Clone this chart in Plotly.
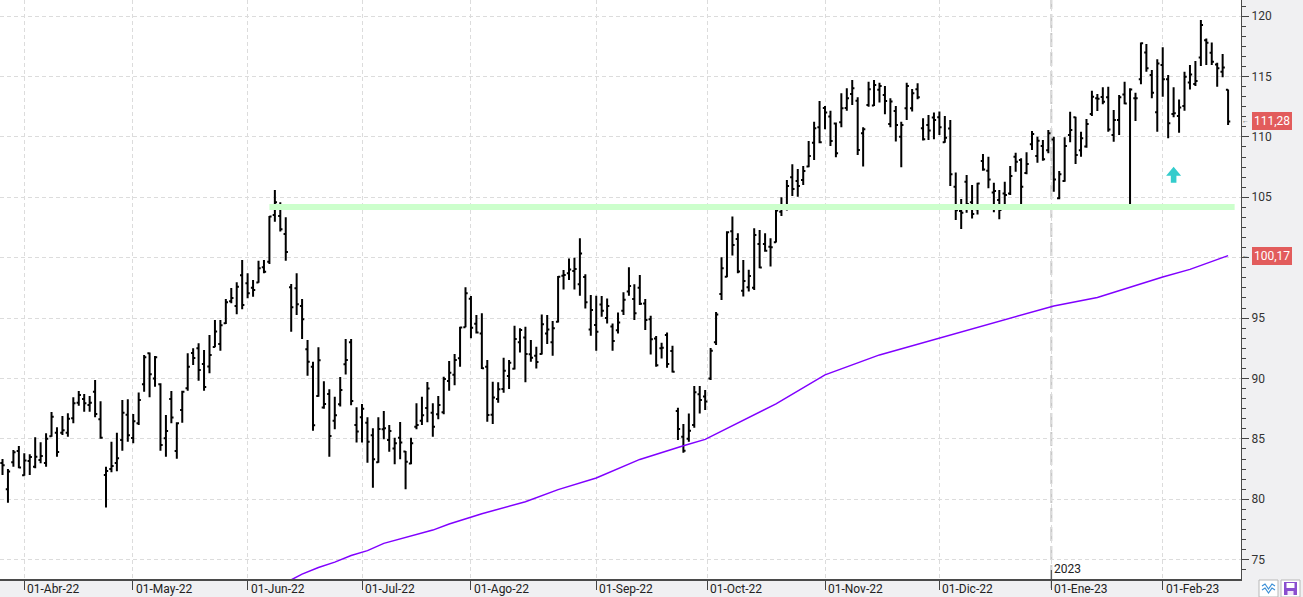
import plotly.graph_objects as go

# ---------------- data (daily bars, index 0 = 28-Mar-2022) ----------------
open_ = [83.0, 80.82, 83.06, 84.0, 81.98, 83.17, 82.70, 83.25, 83.0, 85.21,
         85.5, 85.5, 85.5, 86.70, 88.0, 88.3, 87.8, 88.91, 86.62, 82.0,
         82.5, 83.0, 84.91, 87.0, 85.07, 86.29, 89.52, 92.08, 90.0, 89.52,
         85.05, 88.3, 84.0, 87.39, 89.2, 92.1, 92.5, 91.2, 91.0, 92.6,
         92.86, 94.57, 96.4, 96.0, 98.54, 97.88, 97.5, 97.95, 99.2, 99.67,
         103.53, 103.45, 101.96, 97.55, 97.46, 96.0, 92.41, 90.98, 88.55, 87.6,
         88.72, 86.5, 87.86, 91.17, 92.99, 86.15, 86.78, 86.34, 85.29, 83.06,
         85.8, 84.9, 84.2, 85.1, 83.95, 82.97, 86.0, 86.5, 87.56, 87.17,
         87.03, 87.2, 89.8, 90.3, 91.67, 94.23, 96.6, 94.53, 93.73, 90.97,
         87.0, 88.3, 89.12, 90.2, 90.8, 93.0, 93.40, 92.0, 91.88, 92.02,
         93.73, 93.0, 94.70, 98.5, 98.7, 98.9, 97.79, 98.4, 94.06, 94.42,
         96.13, 95.0, 94.3, 94.0, 95.6, 97.2, 96.57, 97.5, 96.2, 94.9,
         93.3, 92.5, 93.6, 92.27, 87.3, 85.18, 85.0, 86.14, 88.7, 88.5,
         90.0, 93.0, 97.0, 98.43, 102.18, 101.55, 97.27, 97.55, 97.52, 101.14,
         101.14, 100.9, 101.28, 103.8, 104.36, 106.65, 106.35, 106.43, 107.54, 109.52,
         110.79, 112.4, 111.68, 111.1, 111.2, 112.4, 113.55, 113.0, 110.30, 112.64,
         112.6, 113.9, 113.47, 111.07, 112.15, 110.02, 112.37, 112.37, 113.94, 110.71,
         110.99, 111.6, 111.62, 109.55, 110.70, 105.88, 103.86, 106.29, 104.58, 104.0,
         108.0, 107.20, 105.4, 104.77, 105.32, 105.32, 108.36, 108.08, 107.0, 109.38,
         108.41, 109.24, 108.9, 109.79, 104.91, 106.34, 110.15, 111.62, 108.9, 109.2,
         111.89, 113.2, 113.3, 113.27, 110.15, 111.39, 113.5, 104.17, 113.2, 114.76,
         116.99, 115.12, 112.03, 115.95, 114.76, 111.9, 111.73, 112.55, 114.5, 114.37,
         116.58, 118.0, 116.97, 116.0, 115.40, 113.9]
high = [83.33, 82.51, 84.08, 84.41, 83.80, 83.72, 85.13, 84.71, 85.46, 87.23,
        85.96, 86.89, 87.12, 88.44, 88.96, 88.72, 88.55, 89.87, 88.11, 82.70,
        84.77, 85.51, 88.22, 88.27, 87.06, 88.83, 91.95, 92.14, 91.86, 89.6,
        86.98, 88.96, 86.37, 88.99, 92.08, 92.50, 92.91, 92.36, 93.60, 94.84,
        94.84, 96.58, 97.49, 97.96, 99.81, 98.71, 98.15, 99.75, 99.81, 103.45,
        105.60, 104.58, 103.34, 97.82, 98.70, 96.58, 93.19, 91.39, 92.58, 89.76,
        89.10, 88.49, 90.12, 93.27, 93.27, 87.61, 87.89, 86.78, 85.87, 86.78,
        87.31, 86.15, 85.10, 86.40, 83.99, 85.10, 87.94, 88.49, 89.71, 87.94,
        88.55, 90.15, 91.45, 92.03, 94.29, 97.55, 96.82, 95.25, 95.39, 91.52,
        89.73, 89.68, 91.72, 91.52, 94.37, 94.15, 94.29, 93.18, 92.63, 95.30,
        95.25, 94.75, 98.48, 98.97, 99.94, 99.99, 101.60, 98.62, 96.91, 96.85,
        96.82, 96.63, 94.56, 95.47, 97.13, 99.20, 97.79, 98.56, 96.57, 95.19,
        93.51, 92.96, 93.81, 92.71, 87.58, 86.23, 87.11, 89.37, 89.37, 89.04,
        92.52, 95.50, 100.03, 102.18, 103.4, 102.02, 99.81, 99.0, 102.43, 102.29,
        102.02, 101.61, 104.01, 105.00, 106.43, 107.73, 107.34, 107.59, 109.66, 111.26,
        112.97, 112.56, 112.17, 111.18, 113.61, 114.02, 114.71, 113.28, 110.79, 114.57,
        114.71, 114.49, 114.22, 113.19, 112.56, 111.26, 114.49, 113.97, 114.44, 111.54,
        111.81, 112.01, 112.09, 111.73, 111.39, 107.06, 104.85, 106.84, 106.01, 106.21,
        108.58, 108.36, 106.21, 105.60, 106.29, 107.59, 108.69, 108.22, 108.72, 110.48,
        110.01, 109.74, 110.57, 110.01, 107.17, 109.96, 112.08, 111.67, 110.43, 111.48,
        113.82, 113.55, 114.10, 114.15, 112.22, 113.46, 114.57, 114.02, 113.66, 117.82,
        117.69, 115.53, 116.42, 117.41, 115.12, 114.10, 113.10, 115.40, 115.95, 116.28,
        119.67, 118.15, 117.82, 116.14, 116.86, 113.93]
low = [82.01, 79.72, 82.70, 82.56, 81.95, 82.01, 82.56, 82.98, 82.70, 85.18,
       83.53, 85.32, 85.18, 86.29, 87.75, 87.25, 87.25, 86.78, 85.02, 79.31,
       82.23, 82.31, 84.02, 84.77, 84.63, 86.15, 88.91, 88.44, 89.32, 84.02,
       83.53, 86.29, 83.36, 86.34, 88.99, 91.12, 89.82, 88.99, 90.43, 92.58,
       92.30, 94.51, 96.22, 95.31, 95.73, 96.64, 96.77, 97.93, 98.71, 99.48,
       102.98, 102.16, 99.75, 93.87, 95.25, 93.27, 90.23, 85.68, 88.49, 87.50,
       83.53, 85.79, 87.67, 90.32, 87.78, 84.69, 84.69, 83.03, 80.96, 83.03,
       84.96, 83.94, 82.89, 83.31, 80.82, 82.89, 85.79, 86.15, 86.37, 85.18,
       86.62, 87.03, 88.99, 89.43, 90.98, 94.23, 93.32, 93.73, 90.78, 86.42,
       86.23, 87.99, 88.82, 89.12, 90.75, 92.16, 89.68, 91.39, 90.83, 91.99,
       92.85, 91.88, 94.64, 97.37, 98.15, 97.37, 96.85, 95.80, 93.54, 92.30,
       95.11, 94.56, 92.30, 93.73, 95.25, 96.85, 94.84, 96.08, 94.01, 91.99,
       90.97, 91.66, 90.89, 90.50, 84.90, 83.85, 84.76, 85.92, 87.11, 87.4,
       89.87, 92.77, 96.50, 98.38, 100.17, 98.71, 96.78, 97.19, 97.33, 99.12,
       100.50, 99.26, 101.25, 103.45, 103.90, 105.11, 105.05, 106.02, 107.48, 108.09,
       109.47, 110.63, 109.25, 108.31, 110.79, 112.17, 112.64, 108.50, 107.54, 112.50,
       112.56, 112.84, 111.87, 110.79, 109.61, 107.48, 111.40, 112.09, 113.11, 109.69,
       109.74, 109.80, 110.16, 109.52, 105.93, 103.12, 102.37, 103.72, 103.25, 103.58,
       107.2, 105.74, 103.75, 103.17, 104.36, 105.19, 107.12, 104.03, 106.90, 108.91,
       107.86, 108.03, 108.64, 105.46, 104.83, 106.29, 109.55, 107.75, 108.36, 109.10,
       111.73, 112.14, 112.69, 110.43, 109.60, 110.15, 112.69, 104.17, 111.31, 114.35,
       115.39, 113.19, 110.43, 113.33, 109.88, 111.62, 110.35, 112.17, 113.93, 114.21,
       115.86, 115.95, 115.95, 114.15, 114.93, 110.98]
close = [82.81, 82.3, 83.9, 82.64, 83.20, 83.5, 83.53, 83.58, 85.02, 86.84,
         83.91, 85.71, 86.67, 87.94, 88.63, 87.94, 88.0, 87.06, 85.10, 82.34,
         82.76, 83.39, 87.17, 85.29, 86.45, 88.22, 91.75, 90.35, 91.75, 84.49,
         85.65, 86.76, 86.29, 88.91, 90.98, 91.7, 90.70, 89.3, 91.95, 93.88,
         94.40, 96.30, 96.66, 97.6, 96.08, 97.05, 97.33, 99.12, 98.84, 103.40,
         104.58, 102.35, 100.47, 95.89, 96.14, 94.90, 91.39, 86.12, 91.50, 87.89,
         85.24, 86.95, 89.05, 91.53, 88.14, 85.62, 87.50, 84.77, 83.31, 85.82,
         85.87, 85.65, 84.63, 84.7, 83.11, 84.63, 86.15, 86.95, 89.18, 86.0,
         87.80, 89.96, 90.48, 91.53, 94.21, 97.05, 94.2, 93.8, 90.85, 86.97,
         88.43, 89.1, 90.64, 91.30, 93.26, 94.01, 92.02, 91.72, 91.36, 94.48,
         94.06, 94.15, 98.42, 98.56, 99.03, 99.06, 100.35, 96.30, 95.66, 93.87,
         95.61, 95.99, 93.10, 94.64, 96.52, 97.65, 95.39, 96.19, 94.84, 93.24,
         91.1, 92.55, 91.2, 90.56, 85.81, 84.02, 85.67, 88.85, 88.21, 88.1,
         92.3, 95.3, 99.12, 102.1, 101.05, 98.85, 98.07, 98.49, 101.88, 99.18,
         100.58, 100.86, 103.90, 104.17, 105.94, 105.69, 105.94, 107.18, 108.42, 110.71,
         109.55, 112.01, 109.66, 108.64, 112.37, 113.19, 114.02, 108.92, 110.63, 113.94,
         114.30, 114.22, 112.97, 112.92, 110.99, 110.99, 114.22, 113.61, 113.28, 109.80,
         110.52, 111.40, 110.79, 109.93, 106.90, 103.92, 103.72, 104.44, 103.61, 106.15,
         107.3, 106.48, 105.52, 103.94, 105.19, 106.76, 107.94, 105.88, 107.75, 110.24,
         109.68, 108.14, 110.29, 106.48, 106.90, 109.24, 110.57, 108.50, 109.88, 111.06,
         113.33, 113.16, 112.91, 110.62, 111.39, 113.27, 112.77, 113.93, 113.19, 117.74,
         115.67, 113.66, 116.08, 114.76, 111.12, 111.95, 112.44, 114.98, 115.17, 114.62,
         119.26, 117.80, 116.22, 115.67, 115.75, 111.28]
bar_index = list(range(len(close)))

# moving average (read at selected bars)
ma_index = [52, 55, 58, 61, 64, 67, 70, 73, 76, 79, 82, 85, 88, 96, 102, 109, 117,
            125, 129, 142, 151, 161, 172, 183, 193, 201, 207, 213, 218, 225]
ma_value = [73.1, 73.8, 74.35, 74.8, 75.35, 75.75, 76.35, 76.7, 77.05, 77.45, 77.95,
            78.35, 78.8, 79.8, 80.8, 81.76, 83.3, 84.43, 84.96, 87.9, 90.3, 91.95,
            93.35, 94.7, 96.0, 96.7, 97.56, 98.4, 99.03, 100.17]

# month ticks
month_pos = [4, 23.9, 45, 66, 86, 109, 129.4, 151, 172, 192.55, 213]
month_labels = ["01-Abr-22", "01-May-22", "01-Jun-22", "01-Jul-22", "01-Ago-22",
                "01-Sep-22", "01-Oct-22", "01-Nov-22", "01-Dic-22", "01-Ene-23",
                "01-Feb-23"]
year_pos = 192.55
year_label = "2023"

# support line and signal arrow
support_level = 104.2
support_from = 49
support_to = 226.2
signal_index = 215
signal_level = 106.21

# ---------------- figure ----------------
PLOT_W, PLOT_H = 1241, 579


def px_x(px):
    return px / PLOT_W


def px_y(py):
    return (PLOT_H - py) / PLOT_H


fig = go.Figure()
fig.add_trace(go.Scatter(x=[support_from, support_to], y=[support_level, support_level],
                         mode="lines", line=dict(color="#ccffcc", width=6),
                         hoverinfo="skip"))
fig.add_trace(go.Scatter(x=ma_index, y=ma_value, mode="lines",
                         line=dict(color="#8000ff", width=1.5), hoverinfo="skip"))
fig.add_trace(go.Ohlc(x=bar_index, open=open_, high=high, low=low, close=close,
                      increasing=dict(line=dict(color="black", width=2)),
                      decreasing=dict(line=dict(color="black", width=2)),
                      tickwidth=0.4))

grid = dict(showgrid=True, gridcolor="#dcdcdc", gridwidth=1, griddash="4px,3px",
            zeroline=False)
fig.update_layout(
    width=1303, height=597,
    margin=dict(l=0, r=62, t=0, b=18, pad=0),
    paper_bgcolor="#f0f0f2", plot_bgcolor="white", showlegend=False,
    font=dict(family="Roboto", size=11, color="#333"),
    xaxis=dict(range=[-0.46, 227.37], rangeslider=dict(visible=False),
               tickmode="array", tickvals=month_pos, ticktext=month_labels,
               showticklabels=False, ticks="outside", ticklen=9, tickcolor="#444",
               tickwidth=1, showline=True, linecolor="#4a4a4a", linewidth=2, **grid),
    yaxis=dict(side="right", range=[73.40, 121.33], tick0=0, dtick=5,
               ticks="outside", ticklen=7, tickcolor="#444", tickwidth=1,
               showline=True, linecolor="#4a4a4a", linewidth=1,
               tickfont=dict(family="Roboto", size=12, color="#333"),
               minor=dict(tick0=0, dtick=5 / 6, ticks="outside", ticklen=4,
                          tickcolor="#444", showgrid=False), **grid),
)

# month labels (left aligned next to the tick)
for pos, lab in zip(month_pos, month_labels):
    fig.add_annotation(x=pos, y=0, xref="x", yref="paper", text=lab, showarrow=False,
                       xanchor="left", yanchor="top", xshift=1, yshift=-1,
                       font=dict(family="Roboto", size=12, color="#222"))

# year separator
fig.add_shape(type="line", xref="x", yref="paper", x0=year_pos, x1=year_pos, y0=0, y1=1,
              line=dict(color="#c8c8c8", width=2, dash="14px,5px"), layer="below")
fig.add_shape(type="line", xref="x", yref="paper", x0=year_pos, x1=year_pos,
              y0=px_y(588), y1=px_y(570), line=dict(color="#444", width=1))
fig.add_annotation(x=year_pos, y=0, xref="x", yref="paper", text=year_label,
                   showarrow=False, xanchor="left", yanchor="bottom", xshift=1, yshift=1,
                   font=dict(family="Roboto", size=12, color="#222"))

# value labels on the price axis
for val, col in [(close[-1], "#e25c5c"), (ma_value[-1], "#e25c5c")]:
    fig.add_annotation(x=1, y=val, xref="paper", yref="y",
                       text=f"{val:.2f}".replace(".", ","), showarrow=False,
                       xanchor="left", yanchor="middle", xshift=11,
                       bgcolor=col, borderpad=2, borderwidth=0,
                       font=dict(family="Roboto", size=12, color="white"))
    fig.add_annotation(x=1, y=val, xref="paper", yref="y", text="←", showarrow=False,
                       xanchor="left", yanchor="middle", xshift=0, borderpad=0,
                       font=dict(size=7, color="#555"))

# signal arrow
fig.add_shape(type="path", xref="x", yref="y", xsizemode="pixel", ysizemode="pixel",
              xanchor=signal_index, yanchor=signal_level,
              path="M -2.8,0 L 2.8,0 L 2.8,7 L 7.5,7 L 0,16 L -7.5,7 L -2.8,7 Z",
              fillcolor="#33cccc", line=dict(width=0))

# small toolbar icons bottom-right
fig.add_shape(type="rect", xref="paper", yref="paper", x0=px_x(1259), x1=px_x(1278),
              y0=px_y(597), y1=px_y(580), fillcolor="white",
              line=dict(color="#b8b8b8", width=1))
fig.add_shape(type="path", xref="paper", yref="paper",
              path="M {} {} L {} {} L {} {} L {} {} L {} {}".format(
                  px_x(1262), px_y(586), px_x(1265), px_y(584), px_x(1268.5), px_y(589),
                  px_x(1272), px_y(584), px_x(1275), px_y(586)),
              line=dict(color="#3b8fd6", width=1.2))
fig.add_shape(type="path", xref="paper", yref="paper",
              path="M {} {} L {} {} L {} {} L {} {} L {} {}".format(
                  px_x(1262), px_y(590), px_x(1265), px_y(588), px_x(1268.5), px_y(593),
                  px_x(1272), px_y(588), px_x(1275), px_y(590)),
              line=dict(color="#3b8fd6", width=1.2))
fig.add_shape(type="rect", xref="paper", yref="paper", x0=px_x(1281), x1=px_x(1300),
              y0=px_y(597), y1=px_y(580), fillcolor="white",
              line=dict(color="#b8b8b8", width=1))
fig.add_shape(type="rect", xref="paper", yref="paper", x0=px_x(1284), x1=px_x(1297),
              y0=px_y(595), y1=px_y(582), fillcolor="#8a4fcf", line=dict(width=0))
fig.add_shape(type="rect", xref="paper", yref="paper", x0=px_x(1286.5), x1=px_x(1294.5),
              y0=px_y(588), y1=px_y(583), fillcolor="white", line=dict(width=0))
fig.add_shape(type="rect", xref="paper", yref="paper", x0=px_x(1287.5), x1=px_x(1293.5),
              y0=px_y(595), y1=px_y(591), fillcolor="#f0e8fa", line=dict(width=0))

fig.write_html("out.html", config={"displayModeBar": False},
               post_script="document.body.style.margin='0';"
                           "document.body.style.overflow='hidden';")
